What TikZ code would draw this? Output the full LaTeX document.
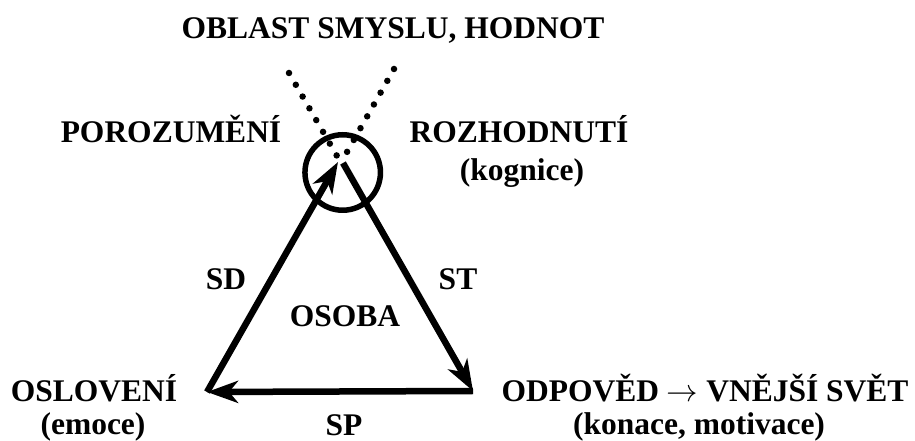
\RequirePackage{fix-cm}
\documentclass[tikz,border=0pt]{standalone}
\usepackage{fontspec}
\setmainfont{Liberation Serif}
\usetikzlibrary{arrows.meta}
\begin{document}
\begin{tikzpicture}[x=1pt,y=1pt,
  lbl/.style={font=\fontsize{31.5}{36}\selectfont\bfseries, anchor=base, inner sep=0pt},
  edgearrow/.style={line width=6.5pt, -{Stealth[length=31pt,width=22pt,inset=9pt]}},
  dotline/.style={line width=6.5pt, line cap=round, dash pattern=on 0pt off 13.6pt},
  ringstyle/.style={circle, draw, line width=5.5pt, minimum size=75.5pt, inner sep=0pt}]
\useasboundingbox (0,0) rectangle (915,441);
% vertices
\coordinate (apexL) at (338,279);
\coordinate (apexR) at (343,278);
\coordinate (L) at (207,49);
\coordinate (R) at (473,50);
% dotted lines
\coordinate (dlt) at (289,368);
\coordinate (dlb) at (337,285);
\coordinate (drt) at (394,372);
\coordinate (drb) at (347,289);
\draw[dotline] (dlt) -- (dlb);
\draw[dotline] (drt) -- (drb);
% ring
\node[ringstyle] (ring) at (342.7,268.5) {};
% triangle
\draw[edgearrow] (L) -- (apexL);
\draw[edgearrow] (apexR) -- (R);
\draw[edgearrow] (R) -- (L);
% labels
\node[lbl] (title) at (393,402) {OBLAST SMYSLU, HODNOT};
\node[lbl] (poroz) at (171,298) {POROZUMĚNÍ};
\node[lbl] (rozh) at (519,298) {ROZHODNUTÍ};
\node[lbl] (kogn) at (522,260) {(kognice)};
\node[lbl] (sd) at (226,151) {SD};
\node[lbl] (st) at (458,151) {ST};
\node[lbl] (osoba) at (345,114) {OSOBA};
\node[lbl] (oslov) at (94,39) {OSLOVENÍ};
\node[lbl] (emoce) at (93,6) {(emoce)};
\node[lbl] (sp) at (344,5) {SP};
\node[lbl] (odpov) at (705,39) {ODPOVĚD $\rightarrow$ VNĚJŠÍ SVĚT};
\node[lbl] (konace) at (699,6) {(konace, motivace)};
\end{tikzpicture}
\end{document}
